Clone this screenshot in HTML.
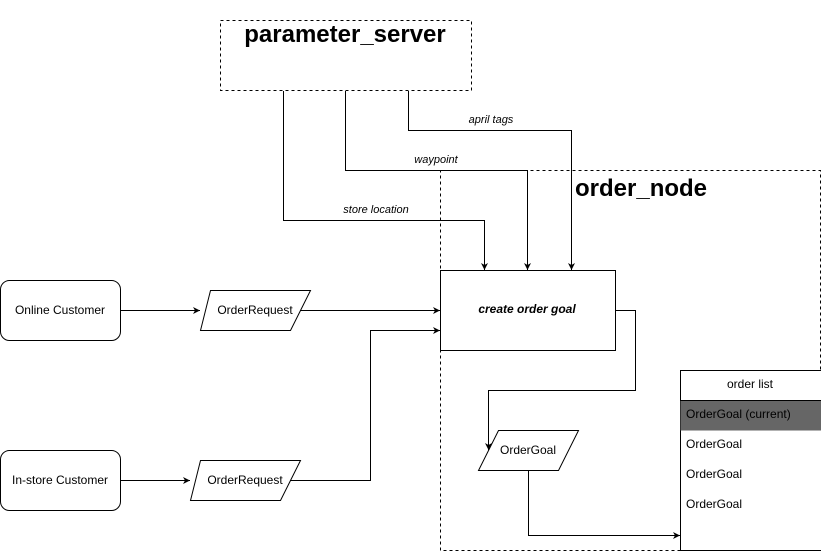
<!DOCTYPE html>
<html><head><style>body{margin:0;background:#fff}svg{display:block}text{font-family:"Liberation Sans",sans-serif}</style></head><body>
<svg width="821" height="551" viewBox="0 0 821 551" xmlns="http://www.w3.org/2000/svg">
<defs><marker id="a" markerWidth="8" markerHeight="8" refX="7" refY="4" orient="auto" markerUnits="userSpaceOnUse"><path d="M0,0.5 L7,4 L0,7.5 L2,4 Z" fill="#000"/></marker></defs>
<g fill="none" stroke="#000" stroke-width="1">
<rect x="220.5" y="20.5" width="251" height="70" stroke-dasharray="3,3"/>
<rect x="440.5" y="170.5" width="380" height="380" stroke-dasharray="3,3"/>
<rect x="0.5" y="280.5" width="120" height="60" rx="9" fill="#fff"/>
<rect x="0.5" y="450.5" width="120" height="60" rx="9" fill="#fff"/>
<polygon points="210.5,290.5 310.5,290.5 290.5,330.5 200.5,330.5" fill="#fff"/>
<polygon points="200.5,460.5 300.5,460.5 280.5,500.5 190.5,500.5" fill="#fff"/>
<rect x="440.5" y="270.5" width="175" height="80" fill="#fff"/>
<polygon points="498.5,430.5 578.5,430.5 558.5,470.5 478.5,470.5" fill="#fff"/>
<rect x="680.5" y="370.5" width="145" height="180" fill="#fff"/>
<rect x="680.5" y="400.5" width="145" height="30" fill="#666" stroke="none"/>
<path d="M680.5,400.5 H821"/>
<path d="M120.5,310.5 H200" marker-end="url(#a)"/>
<path d="M300,310.5 H440" marker-end="url(#a)"/>
<path d="M120.5,480.5 H190" marker-end="url(#a)"/>
<path d="M290,480.5 H370.5 V330.5 H440" marker-end="url(#a)"/>
<path d="M283.5,91 V220.5 H484.5 V270" marker-end="url(#a)"/>
<path d="M345.5,91 V170.5 H527.5 V270" marker-end="url(#a)"/>
<path d="M408.5,91 V130.5 H571.5 V270" marker-end="url(#a)"/>
<path d="M616,310.5 H635.5 V390.5 H488.5 V450" marker-end="url(#a)"/>
<path d="M528.5,471 V535.5 H680" marker-end="url(#a)"/>
</g>
<g font-size="12" fill="#000">
<text x="345" y="42" font-size="24" font-weight="bold" text-anchor="middle">parameter_server</text>
<text x="575" y="196" font-size="24" font-weight="bold">order_node</text>
<text x="491" y="123" font-size="11" font-style="italic" text-anchor="middle">april tags</text>
<text x="436" y="163" font-size="11" font-style="italic" text-anchor="middle">waypoint</text>
<text x="376" y="213" font-size="11" font-style="italic" text-anchor="middle">store location</text>
<text x="60" y="314" text-anchor="middle">Online Customer</text>
<text x="60" y="484" text-anchor="middle">In-store Customer</text>
<text x="255" y="314" text-anchor="middle">OrderRequest</text>
<text x="245" y="484" text-anchor="middle">OrderRequest</text>
<text x="527" y="313" font-size="12" font-weight="bold" font-style="italic" text-anchor="middle">create order goal</text>
<text x="528" y="454" text-anchor="middle">OrderGoal</text>
<text x="750" y="388" text-anchor="middle">order list</text>
<text x="686" y="418">OrderGoal (current)</text>
<text x="686" y="448">OrderGoal</text>
<text x="686" y="478">OrderGoal</text>
<text x="686" y="508">OrderGoal</text>
</g>
</svg>
</body></html>
